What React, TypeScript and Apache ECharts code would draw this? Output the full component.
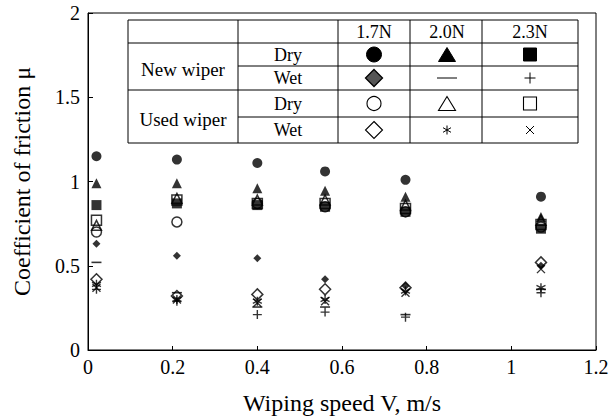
import React, { useEffect, useRef } from "react";
import * as echarts from "echarts";

const speeds = [0.02, 0.21, 0.4, 0.56, 0.75, 1.07];

const newDry17 = [1.15, 1.13, 1.11, 1.06, 1.01, 0.91];
const newDry20 = [0.99, 0.99, 0.96, 0.945, 0.91, 0.79];
const newDry23 = [0.86, 0.87, 0.86, 0.85, 0.82, 0.72];
const newWet17 = [0.63, 0.56, 0.545, 0.42, 0.38, 0.5];
const newWet20 = [0.52, 0.34, 0.255, 0.255, 0.21, 0.36];
const newWet23 = [0.36, 0.29, 0.21, 0.225, 0.195, 0.34];
const usedDry17 = [0.7, 0.76, 0.87, 0.85, 0.82, 0.73];
const usedDry20 = [0.74, 0.9, 0.89, 0.89, 0.86, 0.77];
const usedDry23 = [0.77, 0.89, 0.87, 0.87, 0.84, 0.745];
const usedWet17 = [0.42, 0.32, 0.33, 0.36, 0.37, 0.52];
const usedWet20 = [0.39, 0.3, 0.29, 0.3, 0.35, 0.37];
const usedWet23 = [0.37, 0.3, 0.28, 0.29, 0.34, 0.48];

const loadLabels = ["1.7N", "2.0N", "2.3N"];
const conditionLabels = ["Dry", "Wet", "Dry", "Wet"];
const wiperLabels = ["New wiper", "Used wiper"];

const FONT = "Liberation Serif";

const PLUS = "path://M5,0L5,10M0,5L10,5";
const CROSS = "path://M0,0L10,10M0,10L10,0";
const STAR = "path://M5,0L5,10M0.7,2.5L9.3,7.5M0.7,7.5L9.3,2.5";

type Spec = { name: string; data: number[]; symbol: string; size: number | number[]; filled: boolean; lw?: number };

const specs: Spec[] = [
  { name: "New Dry 1.7N", data: newDry17, symbol: "circle", size: 10, filled: true },
  { name: "New Dry 2.0N", data: newDry20, symbol: "triangle", size: 10, filled: true },
  { name: "New Dry 2.3N", data: newDry23, symbol: "rect", size: 10, filled: true },
  { name: "New Wet 1.7N", data: newWet17, symbol: "diamond", size: 8, filled: true },
  { name: "New Wet 2.0N", data: newWet20, symbol: "rect", size: [10, 1.6], filled: true },
  { name: "New Wet 2.3N", data: newWet23, symbol: PLUS, size: 9, filled: false, lw: 1.4 },
  { name: "Used Dry 1.7N", data: usedDry17, symbol: "circle", size: 10, filled: false, lw: 1.5 },
  { name: "Used Dry 2.0N", data: usedDry20, symbol: "triangle", size: 10, filled: false, lw: 1.5 },
  { name: "Used Dry 2.3N", data: usedDry23, symbol: "rect", size: 10, filled: false, lw: 1.5 },
  { name: "Used Wet 1.7N", data: usedWet17, symbol: "diamond", size: 11, filled: false, lw: 1.5 },
  { name: "Used Wet 2.0N", data: usedWet20, symbol: STAR, size: 9, filled: false, lw: 1.4 },
  { name: "Used Wet 2.3N", data: usedWet23, symbol: CROSS, size: 8, filled: false, lw: 1.4 },
];

function buildTable(): any[] {
  const L = 128, R = 578, T = 20, B = 143;
  const colX = [238, 338, 410, 482];
  const rowY = [43, 66, 90, 117];
  const colC = [374, 447, 530];
  const rowC = [54.5, 78, 103.5, 130];
  const ln = (x1: number, y1: number, x2: number, y2: number, w = 1) => ({
    type: "line",
    shape: { x1, y1, x2, y2 },
    style: { stroke: "#000", lineWidth: w },
    z: 100,
  });
  const els: any[] = [];
  els.push({ type: "rect", shape: { x: L, y: T, width: R - L, height: B - T }, style: { fill: "#fff", stroke: "#000", lineWidth: 1 }, z: 99 });
  els.push(ln(L, rowY[0], R, rowY[0]));
  els.push(ln(colX[0], rowY[1], R, rowY[1]));
  els.push(ln(L, rowY[2], R, rowY[2]));
  els.push(ln(colX[0], rowY[3], R, rowY[3]));
  colX.forEach((x) => els.push(ln(x, T, x, B)));
  const txt = (s: string, x: number, y: number, size = 18) => ({
    type: "text",
    x,
    y,
    style: { text: s, fill: "#000", fontSize: size, fontFamily: FONT, align: "center", verticalAlign: "middle" },
    z: 101,
  });
  loadLabels.forEach((s, i) => els.push(txt(s, colC[i], 32)));
  conditionLabels.forEach((s, i) => els.push(txt(s, 288, rowC[i])));
  els.push(txt(wiperLabels[0], 183, 69, 19));
  els.push(txt(wiperLabels[1], 183, 119, 19));

  const blk = { fill: "#000", stroke: "#000", lineWidth: 1 };
  const open = { fill: "#fff", stroke: "#000", lineWidth: 1.1 };
  const tri = (cx: number, cy: number) => [[cx, cy - 7], [cx + 8.5, cy + 7], [cx - 8.5, cy + 7]];
  const dia = (cx: number, cy: number, r: number) => [[cx, cy - r], [cx + r, cy], [cx, cy + r], [cx - r, cy]];
  // row 1
  els.push({ type: "circle", shape: { cx: colC[0], cy: rowC[0], r: 7.5 }, style: blk, z: 102 });
  els.push({ type: "polygon", shape: { points: tri(colC[1], rowC[0]) }, style: blk, z: 102 });
  els.push({ type: "rect", shape: { x: colC[2] - 6.5, y: rowC[0] - 6.5, width: 13, height: 13 }, style: blk, z: 102 });
  // row 2
  els.push({ type: "polygon", shape: { points: dia(colC[0], rowC[1], 8.5) }, style: { fill: "#555", stroke: "#000", lineWidth: 1.3 }, z: 102 });
  els.push(ln(colC[1] - 10, rowC[1], colC[1] + 10, rowC[1]));
  els.push(ln(colC[2] - 5.5, rowC[1], colC[2] + 5.5, rowC[1]));
  els.push(ln(colC[2], rowC[1] - 5.5, colC[2], rowC[1] + 5.5));
  // row 3
  els.push({ type: "circle", shape: { cx: colC[0], cy: rowC[2], r: 7 }, style: open, z: 102 });
  els.push({ type: "polygon", shape: { points: tri(colC[1], rowC[2]) }, style: open, z: 102 });
  els.push({ type: "rect", shape: { x: colC[2] - 6.5, y: rowC[2] - 6.5, width: 13, height: 13 }, style: open, z: 102 });
  // row 4
  els.push({ type: "polygon", shape: { points: dia(colC[0], rowC[3], 8.5) }, style: open, z: 102 });
  const sx = colC[1], sy = rowC[3];
  els.push(ln(sx, sy - 4.5, sx, sy + 4.5));
  els.push(ln(sx - 4, sy - 2.3, sx + 4, sy + 2.3));
  els.push(ln(sx - 4, sy + 2.3, sx + 4, sy - 2.3));
  const xx = colC[2], xy = rowC[3];
  els.push(ln(xx - 4, xy - 4, xx + 4, xy + 4));
  els.push(ln(xx - 4, xy + 4, xx + 4, xy - 4));
  return els;
}

export default function App() {
  const ref = useRef<HTMLDivElement>(null);
  useEffect(() => {
    if (!ref.current) return;
    const chart = echarts.init(ref.current, null, { renderer: "svg" });
    const series = specs.map((s) => ({
      name: s.name,
      type: "scatter",
      symbol: s.symbol,
      symbolSize: s.size,
      data: s.data.map((v, i) => [speeds[i], v]),
      itemStyle: s.filled
        ? { color: "#000", borderWidth: 0 }
        : { color: "transparent", borderColor: "#000", borderWidth: s.lw ?? 1.2 },
      emphasis: { disabled: true },
    }));
    chart.setOption({
      animation: false,
      backgroundColor: "#fff",
      textStyle: { fontFamily: FONT },
      grid: { left: 88, right: 17, top: 13, bottom: 69, show: true, borderColor: "#000", borderWidth: 1, containLabel: false },
      xAxis: {
        type: "value",
        min: 0,
        max: 1.2,
        interval: 0.2,
        name: "Wiping speed V, m/s",
        nameLocation: "middle",
        nameGap: 41,
        nameTextStyle: { fontFamily: FONT, fontSize: 24, color: "#000" },
        axisLine: { show: true, lineStyle: { color: "#000", width: 1 } },
        axisTick: { show: true, inside: true, length: 4, lineStyle: { color: "#000" } },
        axisLabel: { fontFamily: FONT, fontSize: 20, color: "#000", margin: 7 },
        splitLine: { show: false },
      },
      yAxis: {
        type: "value",
        min: 0,
        max: 2,
        interval: 0.5,
        name: "Coefficient of friction μ",
        nameLocation: "middle",
        nameGap: 54,
        nameTextStyle: { fontFamily: FONT, fontSize: 24, color: "#000" },
        axisLine: { show: true, lineStyle: { color: "#000", width: 1 } },
        axisTick: { show: true, inside: true, length: 5, lineStyle: { color: "#000" } },
        axisLabel: { fontFamily: FONT, fontSize: 20, color: "#000", margin: 8 },
        splitLine: { show: false },
      },
      graphic: buildTable(),
      series,
    });
    return () => chart.dispose();
  }, []);
  return <div ref={ref} style={{ position: "fixed", left: 0, top: 0, width: 613, height: 420 }} />;
}
